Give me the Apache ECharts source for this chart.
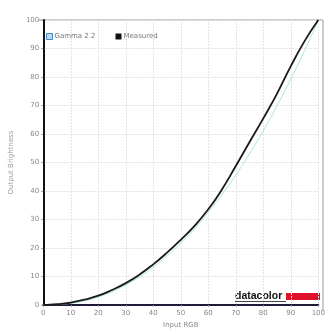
<!DOCTYPE html>
<html>
<head>
<meta charset="utf-8">
<script src="https://cdn.jsdelivr.net/npm/echarts@6/dist/echarts.min.js"></script>
<style>
  html, body { margin: 0; padding: 0; background: #fff; }
  #chart { width: 328px; height: 334px; }
</style>
</head>
<body>
<div id="chart"></div>
<script>
  // input RGB steps (%)
  var inputRGB = [0, 5, 10, 15, 20, 25, 30, 35, 40, 45, 50, 55, 60, 65, 70, 75, 80, 85, 90, 95, 100];
  // reference gamma 2.2 curve
  var gamma22 = [0, 0.14, 0.63, 1.5, 2.9, 4.7, 7.1, 9.9, 13.3, 17.3, 21.8, 26.8, 32.5, 38.8, 45.6, 53.1, 61.2, 69.9, 79.3, 89.3, 100];
  // measured output brightness
  var measured = [0, 0.3, 0.9, 1.9, 3.3, 5.3, 7.7, 10.7, 14.3, 18.4, 22.9, 27.8, 33.6, 40.6, 48.8, 57.2, 65.5, 74.2, 83.8, 92.6, 100];
  var axisTicks = [0, 10, 20, 30, 40, 50, 60, 70, 80, 90, 100];

  function pairs(ys) {
    return inputRGB.map(function (x, i) { return [x, ys[i]]; });
  }

  var myChart = echarts.init(document.getElementById('chart'));
  var labelStyle = { color: '#888', fontSize: 7, fontFamily: 'DejaVu Sans' };

  myChart.setOption({
    animation: false,
    backgroundColor: '#fff',
    grid: { left: 38, right: 5, top: 20, bottom: 23 },
    legend: {
      left: 41, top: 28,
      itemWidth: 6, itemHeight: 6, itemGap: 20,
      icon: 'rect',
      textStyle: { color: '#777', fontSize: 7, fontFamily: 'DejaVu Sans', padding: [0, 0, 0, -3] },
      data: [
        { name: 'Gamma 2.2', itemStyle: { color: '#b9d9ef', borderColor: '#4a86c0', borderWidth: 1 } },
        { name: 'Measured', itemStyle: { color: '#111' } }
      ]
    },
    xAxis: {
      type: 'value', min: axisTicks[0], max: axisTicks[axisTicks.length - 1], interval: 10,
      name: 'Input RGB', nameLocation: 'middle', nameGap: 14,
      nameTextStyle: { color: '#888', fontSize: 7, fontFamily: 'DejaVu Sans' },
      axisLine: { lineStyle: { color: '#1c1c3a', width: 2 } },
      axisTick: { show: true, length: 2, lineStyle: { color: '#aaa' } },
      axisLabel: Object.assign({ margin: 5 }, labelStyle),
      splitLine: { show: true, lineStyle: { color: '#e4e4e4', width: 1, type: [2, 1] } }
    },
    yAxis: {
      type: 'value', min: 0, max: 100, interval: 10,
      name: 'Output Brightness', nameLocation: 'middle', nameGap: 22,
      nameTextStyle: { color: '#999', fontSize: 7, fontFamily: 'DejaVu Sans' },
      axisLine: { show: true, lineStyle: { color: '#111', width: 2 } },
      axisTick: { show: true, length: 2, lineStyle: { color: '#999' } },
      axisLabel: Object.assign({ margin: 4 }, labelStyle),
      splitLine: { show: true, lineStyle: { color: '#e4e4e4', width: 1, type: [2, 1] } }
    },
    graphic: [
      { type: 'line', shape: { x1: 38, y1: 20, x2: 323, y2: 20 }, style: { stroke: '#999', lineWidth: 1 } },
      { type: 'line', shape: { x1: 323, y1: 20, x2: 323, y2: 311 }, style: { stroke: '#999', lineWidth: 1 } },
      { type: 'rect', shape: { x: 232, y: 288, width: 90, height: 16 }, style: { fill: '#fff' } },
      { type: 'text', x: 235, y: 291, style: { text: 'datacolor', fill: '#111', font: 'bold 10.5px "Liberation Sans"' } },
      { type: 'rect', shape: { x: 235, y: 301, width: 51, height: 1 }, style: { fill: '#444' } },
      { type: 'rect', shape: { x: 286, y: 293, width: 34, height: 7 }, style: { fill: '#e0112b' } }
    ],
    series: [
      {
        name: 'Gamma 2.2', type: 'line', smooth: true, showSymbol: false,
        data: pairs(gamma22),
        itemStyle: { color: '#b9d9ef' },
        lineStyle: { color: '#a6e6e6', width: 1 }
      },
      {
        name: 'Measured', type: 'line', smooth: true, showSymbol: false,
        data: pairs(measured),
        itemStyle: { color: '#111' },
        lineStyle: { color: '#1a1a1a', width: 1.8 }
      }
    ]
  });
</script>
</body>
</html>
